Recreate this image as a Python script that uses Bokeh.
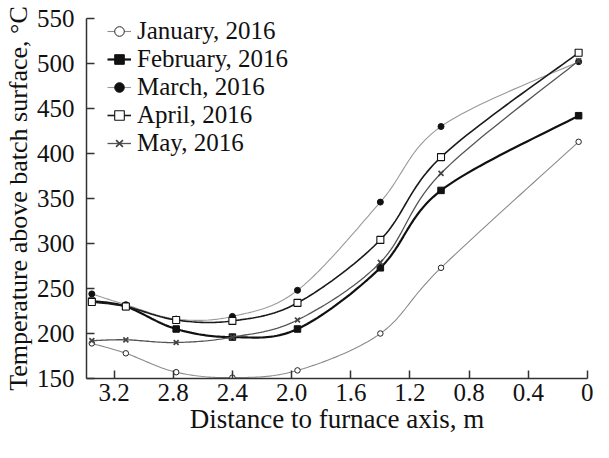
from bokeh.plotting import figure
from bokeh.models import Range1d, FixedTicker, Legend, LegendItem
from bokeh.embed import file_html
from bokeh.resources import INLINE

# ---- data ----
distance = [3.35, 3.12, 2.78, 2.40, 1.96, 1.40, 0.99, 0.06]
january = [189, 178, 157, 151, 159, 200, 273, 413]
february = [236, 230, 205, 196, 205, 273, 359, 442]
march = [244, 232, 216, 219, 248, 346, 430, 502]
april = [235, 230, 215, 214, 234, 304, 396, 512]
may = [192, 193, 190, 196, 215, 279, 378, 503]
x_ticks = [3.2, 2.8, 2.4, 2.0, 1.6, 1.2, 0.8, 0.4, 0.0]
x_tick_labels = ["3.2", "2.8", "2.4", "2.0", "1.6", "1.2", "0.8", "0.4", "0"]
y_ticks = [150, 200, 250, 300, 350, 400, 450, 500, 550]
series_names = ["January, 2016", "February, 2016", "March, 2016", "April, 2016", "May, 2016"]

FONT = "Liberation Serif"
W, H = 593, 442
FL, FT, FW, FH = 79, 18, 508, 360
X0, X1 = 3.386, 0.0
Y0, Y1 = 150, 550
SX = FW / (X0 - X1)
SY = FH / (Y1 - Y0)


def smooth(xs, ys, n=24):
    # Bezier smoothing (Catmull-Rom style) in screen-proportional space, for drawing only
    pts = [(x * SX, y * SY) for x, y in zip(xs, ys)]
    out_x, out_y = [], []
    m = len(pts)
    for i in range(m - 1):
        p0 = pts[i - 1] if i > 0 else pts[i]
        p1 = pts[i]
        p2 = pts[i + 1]
        p3 = pts[i + 2] if i + 2 < m else pts[i + 1]
        c1 = (p1[0] + (p2[0] - p0[0]) / 6, p1[1] + (p2[1] - p0[1]) / 6)
        c2 = (p2[0] - (p3[0] - p1[0]) / 6, p2[1] - (p3[1] - p1[1]) / 6)
        for k in range(n + 1 if i == m - 2 else n):
            t = k / n
            a = (1 - t) ** 3
            b = 3 * (1 - t) ** 2 * t
            c = 3 * (1 - t) * t ** 2
            d = t ** 3
            out_x.append((a * p1[0] + b * c1[0] + c * c2[0] + d * p2[0]) / SX)
            out_y.append((a * p1[1] + b * c1[1] + c * c2[1] + d * p2[1]) / SY)
    return out_x, out_y


p = figure(width=W, height=H, output_backend="svg", toolbar_location=None,
           x_range=Range1d(X0, X1), y_range=Range1d(Y0, Y1),
           min_border_left=FL, min_border_top=FT,
           min_border_right=W - FL - FW, min_border_bottom=H - FT - FH)
p.outline_line_color = None
p.xgrid.visible = False
p.ygrid.visible = False
p.background_fill_color = "white"
p.border_fill_color = "white"

for ax in (p.xaxis[0], p.yaxis[0]):
    ax.axis_line_color = "#333333"
    ax.axis_line_width = 1.5
    ax.major_tick_line_color = "#333333"
    ax.major_tick_line_width = 1.5
    ax.major_tick_in = 8
    ax.major_tick_out = 0
    ax.minor_tick_line_color = None
    ax.major_label_text_font = FONT
    ax.major_label_text_font_size = "25px"
    ax.major_label_text_color = "#111111"
    ax.axis_label_text_font = FONT
    ax.axis_label_text_font_style = "normal"
    ax.axis_label_text_color = "#111111"

p.xaxis.axis_label_text_font_size = "27px"
p.yaxis.axis_label_text_font_size = "26px"
p.xaxis.ticker = FixedTicker(ticks=x_ticks)
p.xaxis.major_label_overrides = {t: l for t, l in zip(x_ticks, x_tick_labels)}
p.yaxis.ticker = FixedTicker(ticks=y_ticks)
p.xaxis.axis_label = "Distance to furnace axis, m"
p.yaxis.axis_label = "Temperature above batch surface, \u00b0C"
p.xaxis.major_label_standoff = 5
p.xaxis.axis_label_standoff = 0
p.yaxis.major_label_standoff = 12
p.yaxis.axis_label_standoff = 1

items = []
# January
sx_, sy_ = smooth(distance, january)
l1 = p.line(sx_, sy_, line_color="#8a8a8a", line_width=1.1)
m1 = p.scatter(distance, january, marker="circle", size=5.5, fill_color="white",
               line_color="#222222", line_width=1.0)
items.append(LegendItem(label=series_names[0], renderers=[l1, m1]))
# February
sx_, sy_ = smooth(distance, february)
l2 = p.line(sx_, sy_, line_color="#111111", line_width=2.2)
m2 = p.scatter(distance, february, marker="square", size=6.5, fill_color="#111111",
               line_color="#111111")
items.append(LegendItem(label=series_names[1], renderers=[l2, m2]))
# March
sx_, sy_ = smooth(distance, march)
l3 = p.line(sx_, sy_, line_color="#9a9a9a", line_width=1.1)
m3 = p.scatter(distance, march, marker="circle", size=6, fill_color="#111111",
               line_color="#111111")
items.append(LegendItem(label=series_names[2], renderers=[l3, m3]))
# April
sx_, sy_ = smooth(distance, april)
l4 = p.line(sx_, sy_, line_color="#1a1a1a", line_width=1.6)
m4 = p.scatter(distance, april, marker="square", size=7, fill_color="white",
               line_color="#111111", line_width=1.1)
items.append(LegendItem(label=series_names[3], renderers=[l4, m4]))
# May
sx_, sy_ = smooth(distance, may)
l5 = p.line(sx_, sy_, line_color="#555555", line_width=1.3)
m5 = p.scatter(distance, may, marker="x", size=7, line_color="#444444", line_width=1.7)
items.append(LegendItem(label=series_names[4], renderers=[l5, m5]))

legend = Legend(items=items, location=(21, 221), margin=0, padding=0,
                spacing=0, glyph_width=24, glyph_height=26, label_height=26,
                label_standoff=6, label_text_font=FONT, label_text_font_size="25px",
                label_text_color="#111111", border_line_color=None,
                background_fill_alpha=0)
p.add_layout(legend)

open("out.html", "w").write(file_html(p, INLINE))
